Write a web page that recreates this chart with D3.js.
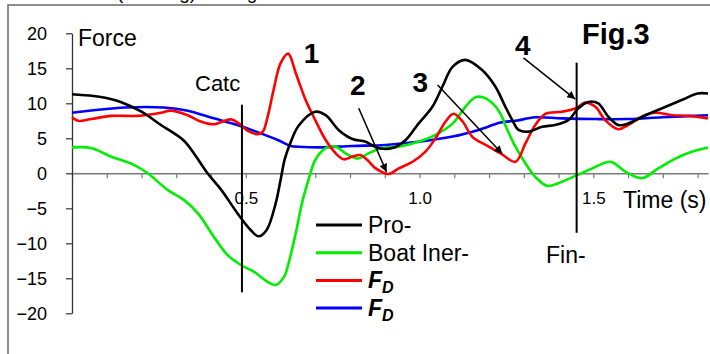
<!doctype html>
<html lang="en">
<head>
<meta charset="utf-8">
<title>Fig.3 Force</title>
<script src="https://cdn.jsdelivr.net/npm/d3@7"></script>
<style>
  body { margin:0; background:#fff; }
  text { font-family: "Liberation Sans", Arial, sans-serif; }
</style>
</head>
<body>
<script>
// force curves, [time (s), force]
var propulsive = [[0,11.3],[0.083,10.9],[0.14,10.2],[0.2,8.8],[0.256,6.9],[0.32,4.75],[0.35,2.9],[0.39,0],[0.43,-2.4],
  [0.476,-5.7],[0.514,-8.1],[0.537,-9.0],[0.56,-8.1],[0.586,-4.3],[0.60,-1],[0.612,2.0],[0.628,4.3],[0.652,6.8],[0.70,8.8],
  [0.73,8.3],[0.767,6.2],[0.807,4.9],[0.845,4.5],[0.882,3.6],[0.922,3.6],[0.96,4.75],[0.997,7.1],[1.037,9.5],[1.066,12.4],
  [1.095,15.2],[1.132,16.2],[1.18,14.75],[1.218,12.4],[1.247,9.5],[1.267,7.6],[1.285,6.2],[1.313,5.95],[1.353,6.65],[1.39,6.9],
  [1.428,7.6],[1.457,9.3],[1.486,10.2],[1.514,10.0],[1.543,8.1],[1.572,6.9],[1.60,7.1],[1.65,8.3],[1.698,9.3],[1.756,10.5],
  [1.80,11.4],[1.83,11.4]];
var boatInertia = [[0,3.7],[0.055,3.6],[0.112,2.4],[0.178,1.2],[0.218,0],[0.276,-2.4],[0.322,-3.8],[0.362,-5.7],[0.408,-9.05],
  [0.448,-11.7],[0.486,-13.1],[0.523,-14.05],[0.563,-15.5],[0.586,-15.95],[0.61,-14.8],[0.625,-12.5],[0.644,-8.5],[0.664,-3.8],
  [0.68,-1],[0.70,1.9],[0.73,3.6],[0.759,3.8],[0.787,2.85],[0.822,2.1],[0.853,2.85],[0.893,3.6],[0.94,3.8],[0.997,4.5],
  [1.046,5.5],[1.095,7.1],[1.132,9.5],[1.16,10.85],[1.18,10.9],[1.21,10.0],[1.233,8.5],[1.25,6.5],[1.276,3.8],[1.305,1.4],
  [1.333,-0.5],[1.368,-1.8],[1.41,-1.2],[1.454,-0.25],[1.497,0.7],[1.549,1.65],[1.592,0.25],[1.64,-0.7],[1.687,0.7],
  [1.736,2.1],[1.785,3.1],[1.83,3.7]];
var dragRed = [[0,8.0],[0.017,7.5],[0.055,7.75],[0.112,8.2],[0.19,8.2],[0.256,8.65],[0.284,8.95],[0.333,8.3],[0.37,7.4],
  [0.408,7.0],[0.457,7.7],[0.486,6.9],[0.505,6.1],[0.534,5.6],[0.549,5.95],[0.563,8.1],[0.58,11.9],[0.60,15.7],[0.622,17.1],
  [0.644,14.3],[0.672,10.5],[0.70,7.6],[0.73,4.75],[0.759,2.85],[0.782,2.0],[0.807,2.4],[0.83,2.6],[0.85,1.9],[0.874,0.7],
  [0.911,-0.1],[0.94,0.7],[0.98,1.65],[1.017,3.1],[1.046,5.0],[1.075,7.4],[1.098,8.5],[1.124,7.4],[1.152,5.2],[1.19,4.05],
  [1.233,2.85],[1.276,1.65],[1.305,4.3],[1.333,6.9],[1.362,8.5],[1.41,8.8],[1.45,9.3],[1.477,10.1],[1.506,9.5],[1.534,7.6],
  [1.572,6.3],[1.60,6.9],[1.64,8.1],[1.678,8.65],[1.727,8.3],[1.773,8.2],[1.83,7.85]];
var dragBlue = [[0,8.65],[0.092,9.15],[0.15,9.4],[0.264,9.4],[0.333,8.95],[0.408,7.85],[0.476,6.9],[0.543,5.7],[0.592,4.75],
  [0.63,3.9],[0.652,3.8],[0.71,3.7],[0.807,3.9],[0.902,4.05],[0.997,4.5],[1.095,5.25],[1.17,6.2],[1.233,7.25],[1.276,7.5],
  [1.333,8.0],[1.41,7.85],[1.506,7.75],[1.60,7.75],[1.698,8.0],[1.83,8.3]];

var yTicks = [-20,-15,-10,-5,0,5,10,15,20];
var xTicks = d3.range(0, 1.81, 0.1);
var xTickLabels = {"0.5":"0.5", "1.0":"1.0", "1.5":"1.5"};

// catch / finish markers and numbered arrows (time, force)
var catchLine = [[0.489,9.8],[0.489,-17]];
var finishLine = [[1.452,15.8],[1.452,-8.5]];
var arrows = [
  [[0.825,9.3],[0.905,0.2]],
  [[1.052,12.6],[1.238,2.8]],
  [[1.299,16.5],[1.448,10.6]]
];
var numbers = [{t:"1",x:0.667,y:15.8},{t:"2",x:0.8,y:11.2},{t:"3",x:0.98,y:11.6},{t:"4",x:1.275,y:16.9}];

var legendItems = [
  {name:"Pro-", color:"#000000"},
  {name:"Boat Iner-", color:"#00ee00"},
  {name:"FD", color:"#ff0000"},
  {name:"FD", color:"#0000ff"}
];

var W = 710, H = 354;
var svg = d3.select("body").append("svg").attr("width", W).attr("height", H);

// outer frame, caption above it is cut by the page edge
svg.append("rect").attr("x",8).attr("y",5).attr("width",760).attr("height",400)
  .attr("fill","none").attr("stroke","#6a6a6a").attr("stroke-width",1.5);
svg.append("text").attr("x",117).attr("y",-1).attr("font-size",19).text("(stroking) Strong");

var x = d3.scaleLinear().domain([0,1.83]).range([72,708]);
var y = d3.scaleLinear().domain([-20,20]).range([313.3,33.3]);

// x axis
var gx = svg.append("g").attr("transform","translate(0," + y(0) + ")")
  .call(d3.axisBottom(x).tickValues(xTicks).tickSize(5).tickSizeOuter(0).tickPadding(14)
    .tickFormat(function(d){ return xTickLabels[d.toFixed(1)] || ""; }));
gx.select(".domain").attr("stroke","#7a7a7a").attr("stroke-width",1.5);
gx.selectAll(".tick line").attr("stroke","#7a7a7a").attr("stroke-width",1.2);
gx.selectAll(".tick text").attr("font-size",17).attr("font-family","Liberation Sans, Arial").attr("fill","#000");

// y axis
var gy = svg.append("g").attr("transform","translate(72,0)")
  .call(d3.axisLeft(y).tickValues(yTicks).tickSize(6).tickSizeOuter(0).tickPadding(19));
gy.select(".domain").attr("stroke","#333").attr("stroke-width",1.3);
gy.selectAll(".tick line").attr("stroke","#333").attr("stroke-width",1.2);
gy.selectAll(".tick text").attr("font-size",18).attr("font-family","Liberation Sans, Arial").attr("fill","#000");

var line = d3.line().x(function(d){return x(d[0]);}).y(function(d){return y(d[1]);})
  .curve(d3.curveCatmullRom.alpha(0.5));

var series = [
  {data:dragBlue, color:"#0000ff"},
  {data:boatInertia, color:"#00ee00"},
  {data:dragRed, color:"#ff0000"},
  {data:propulsive, color:"#000000"}
];
svg.append("g").selectAll("path").data(series).enter().append("path")
  .attr("d", function(d){ return line(d.data); })
  .attr("fill","none").attr("stroke", function(d){ return d.color; })
  .attr("stroke-width",2.6).attr("stroke-linejoin","round");

// catch / finish lines
var straight = d3.line().x(function(d){return x(d[0]);}).y(function(d){return y(d[1]);});
[catchLine, finishLine].forEach(function(l){
  svg.append("path").attr("d", straight(l)).attr("stroke","#000").attr("stroke-width",2).attr("fill","none");
});

// arrows
svg.append("defs").append("marker").attr("id","arrowhead")
  .attr("viewBox","0 0 10 10").attr("refX",10).attr("refY",5)
  .attr("markerWidth",10).attr("markerHeight",8).attr("markerUnits","userSpaceOnUse")
  .attr("orient","auto")
  .append("path").attr("d","M0,0 L10,5 L0,10 Z").attr("fill","#000");
svg.append("g").selectAll("path").data(arrows).enter().append("path")
  .attr("d", function(d){ return straight(d); })
  .attr("stroke","#000").attr("stroke-width",1.5).attr("fill","none")
  .attr("marker-end","url(#arrowhead)");

svg.append("g").selectAll("text").data(numbers).enter().append("text")
  .attr("x", function(d){return x(d.x);}).attr("y", function(d){return y(d.y);})
  .attr("font-size",28).attr("font-weight","bold").text(function(d){return d.t;});

svg.append("text").attr("x",582).attr("y",44).attr("font-size",29).attr("font-weight","bold").text("Fig.3");
svg.append("text").attr("x",78).attr("y",46).attr("font-size",23).text("Force");
svg.append("text").attr("x",195).attr("y",91).attr("font-size",22).text("Catc");
svg.append("text").attr("x",546).attr("y",263).attr("font-size",23).text("Fin-");
svg.append("text").attr("x",623).attr("y",208).attr("font-size",23).text("Time (s)");

// legend
var legend = svg.append("g").attr("transform","translate(316,225)");
var rows = legend.selectAll("g").data(legendItems).enter().append("g")
  .attr("transform", function(d,i){ return "translate(0," + (i*27.7) + ")"; });
rows.append("line").attr("x1",0).attr("x2",46).attr("y1",0).attr("y2",0)
  .attr("stroke", function(d){return d.color;}).attr("stroke-width",3);
rows.each(function(d){
  var t = d3.select(this).append("text").attr("x",52).attr("y",8).attr("font-size",23);
  if (d.name === "FD") {
    t.append("tspan").attr("font-weight","bold").attr("font-style","italic").text("F");
    t.append("tspan").attr("font-weight","bold").attr("font-style","italic").attr("font-size",16).attr("dy",5).text("D");
  } else {
    t.text(d.name);
  }
});
</script>
</body>
</html>
